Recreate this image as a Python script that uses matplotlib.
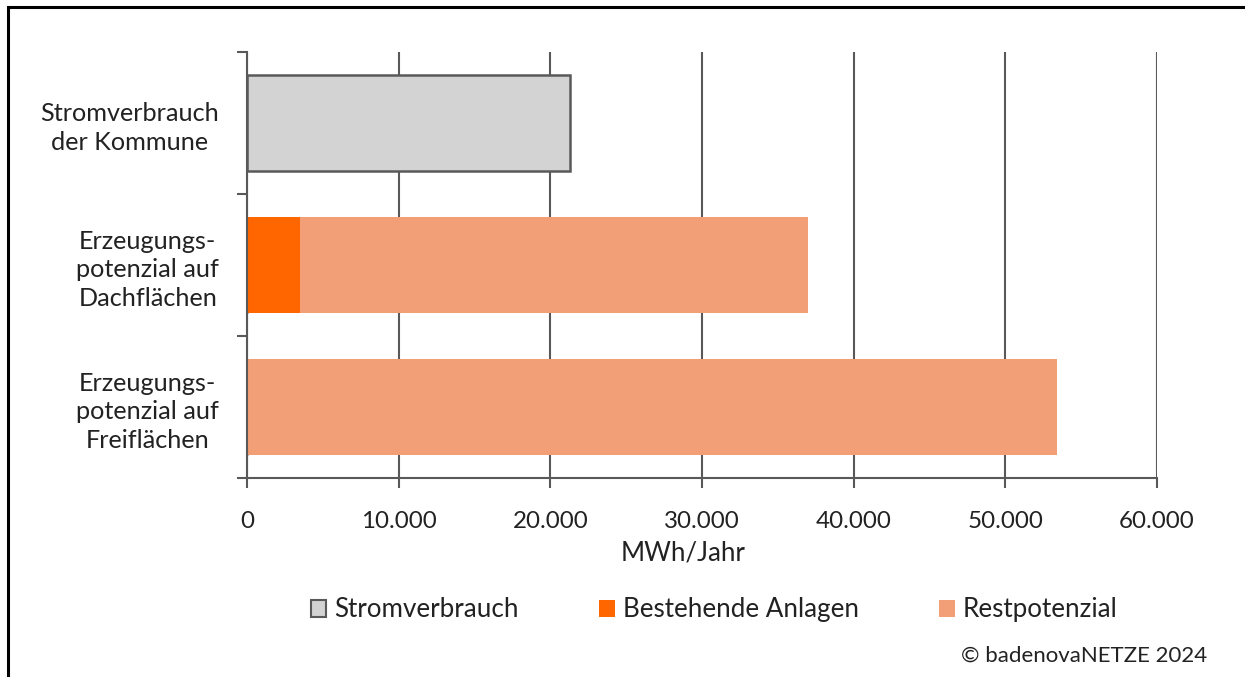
import matplotlib.pyplot as plt
from matplotlib.patches import Patch, Rectangle
import numpy as np

plt.rcParams['font.family'] = ['Lato', 'DejaVu Sans']

categories = ['Stromverbrauch\nder Kommune',
              'Erzeugungs-\npotenzial auf\nDachflächen',
              'Erzeugungs-\npotenzial auf\nFreiflächen']
verbrauch = [21300, 0, 0]
bestehend = [0, 3500, 0]
restpotenzial = [0, 33500, 53400]
x_ticks = [0, 10000, 20000, 30000, 40000, 50000, 60000]
x_labels = ['0', '10.000', '20.000', '30.000', '40.000', '50.000', '60.000']

grey = '#D3D3D3'
dark = '#595959'
orange = '#FF6600'
light_orange = '#F29E76'
text_col = '#222222'

fig = plt.figure(figsize=(12.45, 6.77), dpi=100)
ax = fig.add_axes([0.1984, 0.2939, 0.7309, 0.6293])

y = np.arange(len(categories))
ax.barh(y, verbrauch, height=0.67, color=grey, edgecolor=dark, linewidth=1.8, zorder=3)
ax.barh(y, bestehend, height=0.67, color=orange, zorder=3)
ax.barh(y, restpotenzial, left=bestehend, height=0.67, color=light_orange, zorder=3)

ax.set_ylim(2.5, -0.5)
ax.set_xlim(0, 60000)
ax.set_yticks(y)
ax.set_yticklabels(categories, fontsize=18.2, color=text_col,
                   multialignment='center', linespacing=1.3)
ax.set_yticks([-0.5, 0.5, 1.5, 2.5], minor=True)
ax.tick_params(axis='y', which='major', length=0, pad=20)
ax.tick_params(axis='y', which='minor', length=7, width=1.5, color=dark)

ax.set_xticks(x_ticks)
ax.set_xticklabels(x_labels, fontsize=17.4, color=text_col)
ax.tick_params(axis='x', length=7, width=1.5, color=dark, pad=17)
ax.set_xlabel('MWh/Jahr', fontsize=18.6, color=text_col, labelpad=6)
ax.xaxis.label.set_x(0.479)

ax.grid(axis='x', color=dark, linewidth=1.5, zorder=0)
for side in ['top', 'right']:
    ax.spines[side].set_visible(False)
for side in ['left', 'bottom']:
    ax.spines[side].set_color(dark)
    ax.spines[side].set_linewidth(1.5)
    ax.spines[side].set_zorder(4)

handles = [Patch(facecolor=grey, edgecolor=dark, linewidth=1.5, label='Stromverbrauch'),
           Patch(facecolor=orange, label='Bestehende Anlagen'),
           Patch(facecolor=light_orange, label='Restpotenzial')]
fig.legend(handles=handles, loc='center', bbox_to_anchor=(0.5735, 0.099), ncol=3,
           frameon=False, fontsize=18.7, handlelength=0.6, handleheight=0.6,
           handletextpad=0.3, columnspacing=3.1, labelcolor=text_col)

fig.text(0.9695, 0.032, '© badenovaNETZE 2024', ha='right', va='center',
         fontsize=16, color=text_col)

# outer frame, cut off at the right and bottom
fig.add_artist(Rectangle((0.0064, -0.05), 1.2, 1.04, transform=fig.transFigure,
                         fill=False, edgecolor='black', linewidth=2.2))

fig.savefig('out.png', dpi=100)
